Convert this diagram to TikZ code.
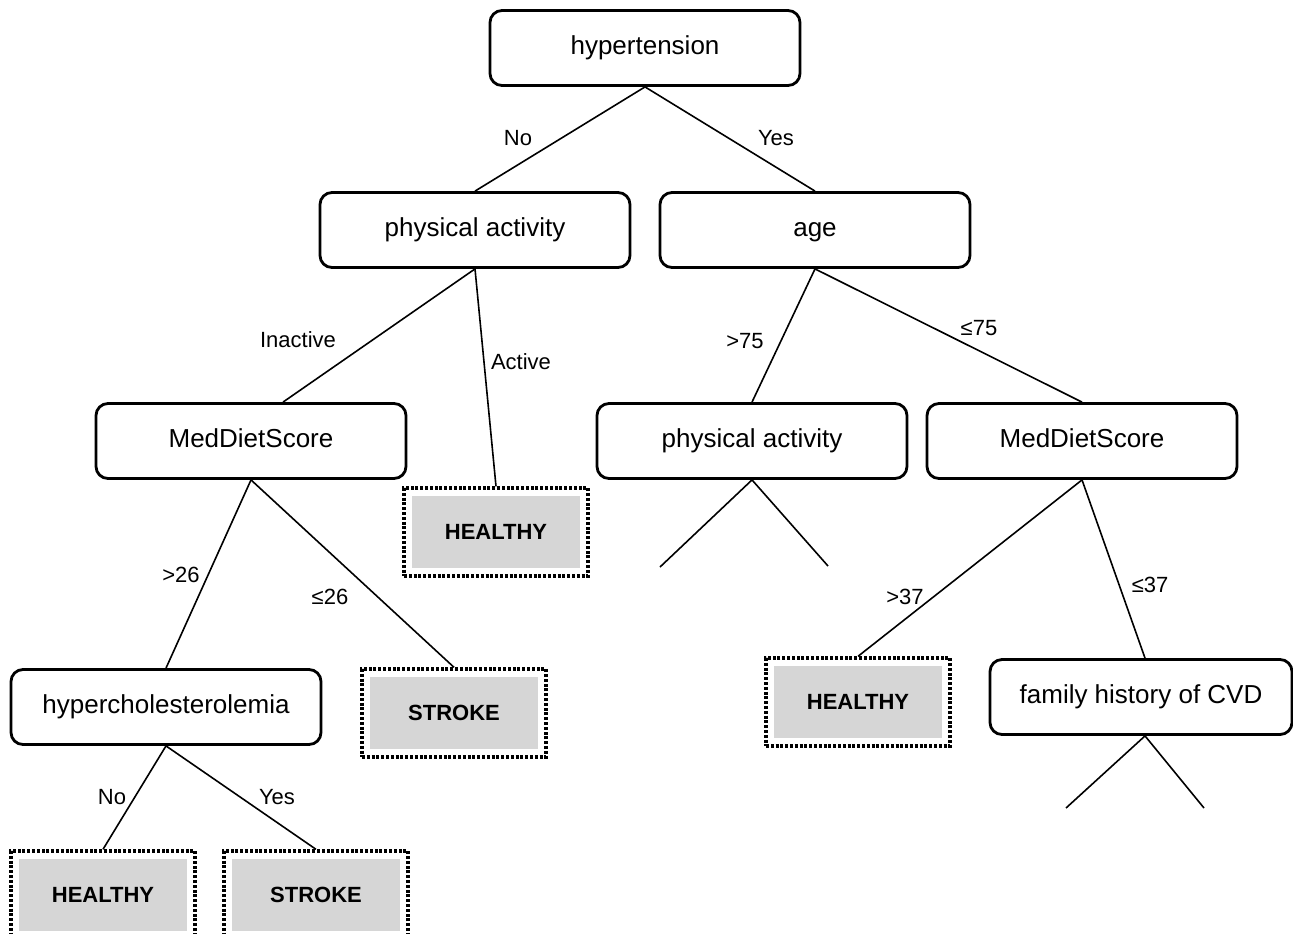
\documentclass[tikz,border=0pt]{standalone}
\usepackage{fontspec}
\setmainfont{Liberation Sans}
\usetikzlibrary{calc}
\definecolor{leafgray}{gray}{0.84}

\tikzset{
  split/.style={draw, line width=1.4pt, rounded corners=6pt, minimum width=155pt,
    minimum height=37.5pt, text height=1.6ex, text depth=.45ex,
    font=\fontsize{13}{15}\selectfont},
  leaf/.style={draw, line width=1.7pt, dash pattern=on 1.5pt off 0.9pt,
    minimum width=92pt, minimum height=44pt, font=\bfseries\fontsize{11}{13}\selectfont,
    path picture={
      \fill[leafgray] ([shift={(4pt,4pt)}]path picture bounding box.south west)
        rectangle ([shift={(-4pt,-4pt)}]path picture bounding box.north east);
    }},
  lbl/.style={font=\fontsize{11}{13}\selectfont, inner sep=1pt},
  branch/.style={line width=0.8pt}
}

\begin{document}
\begin{tikzpicture}[x=0.5pt,y=-0.5pt]
    \useasboundingbox (0,0) rectangle (1293,933);

    % split nodes
    \node[split] (ht) at (645,48) {hypertension};
    \node[split] (paL) at (475,230) {physical activity};
    \node[split] (age) at (815,230) {age};
    \node[split] (mdsL) at (251,441) {MedDietScore};
    \node[split] (paR) at (752,441) {physical activity};
    \node[split] (mdsR) at (1082,441) {MedDietScore};
    \node[split] (hchol) at (166,707) {hypercholesterolemia};
    \node[split, minimum width=151pt] (fam) at (1141,697) {family history of CVD};

    % leaves
    \node[leaf] (h1) at (496,532) {HEALTHY};
    \node[leaf] (s1) at (454,713) {STROKE};
    \node[leaf] (h2) at (858,702) {HEALTHY};
    \node[leaf] (h3) at (103,895) {HEALTHY};
    \node[leaf] (s2) at (316,895) {STROKE};

    % open ends
    \coordinate (paRl) at (660,567);
    \coordinate (paRr) at (828,566);
    \coordinate (faml) at (1066,808);
    \coordinate (famr) at (1204,808);

    % branches
    \draw[branch] (ht.south) -- (paL.north);
    \draw[branch] (ht.south) -- (age.north);
    \draw[branch] (paL.south) -- ([xshift=16pt]mdsL.north);
    \draw[branch] (paL.south) -- (h1.north);
    \draw[branch] (age.south) -- (paR.north);
    \draw[branch] (age.south) -- (mdsR.north);
    \draw[branch] (mdsL.south) -- (hchol.north);
    \draw[branch] (mdsL.south) -- (s1.north);
    \draw[branch] (paR.south) -- (paRl);
    \draw[branch] (paR.south) -- (paRr);
    \draw[branch] (mdsR.south) -- (h2.north);
    \draw[branch] (mdsR.south) -- ([xshift=2pt]fam.north);
    \draw[branch] (hchol.south) -- (h3.north);
    \draw[branch] (hchol.south) -- (s2.north);
    \draw[branch] ([xshift=2pt]fam.south) -- (faml);
    \draw[branch] ([xshift=2pt]fam.south) -- (famr);

    % branch labels
    \node[lbl] (lNo) at (518,138) {No};
    \node[lbl] (lYes) at (776,138) {Yes};
    \node[lbl] (lInact) at (298,340) {Inactive};
    \node[lbl] (lAct) at (521,362) {Active};
    \node[lbl] (lGt75) at (745,341) {>75};
    \node[lbl] (lLe75) at (979,328) {≤75};
    \node[lbl] (lGt26) at (181,575) {>26};
    \node[lbl] (lLe26) at (330,597) {≤26};
    \node[lbl] (lGt37) at (905,597) {>37};
    \node[lbl] (lLe37) at (1150,585) {≤37};
    \node[lbl] (lNo2) at (112,797) {No};
    \node[lbl] (lYes2) at (277,797) {Yes};
\end{tikzpicture}
\end{document}
